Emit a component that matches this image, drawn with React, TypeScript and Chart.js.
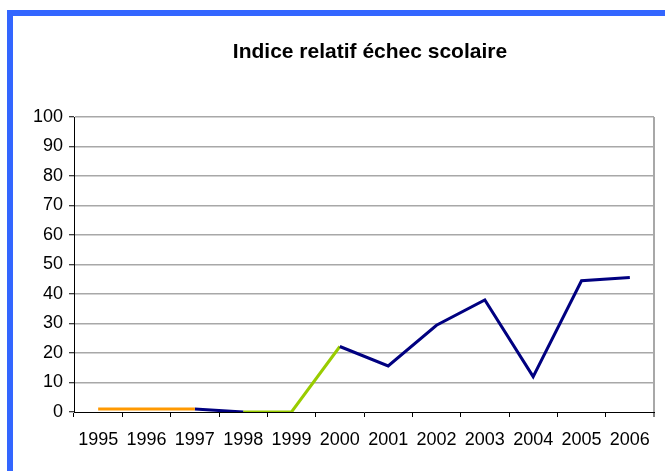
import React, { useEffect, useRef } from "react";
import { Chart, registerables } from "chart.js";

Chart.register(...registerables);

const TITLE = "Indice relatif échec scolaire";
const YEARS = ["1995", "1996", "1997", "1998", "1999", "2000", "2001", "2002", "2003", "2004", "2005", "2006"];
const ORANGE_SERIES = [1, 1, 1, null, null, null, null, null, null, null, null, null];
const GREEN_SERIES = [null, null, null, 0, 0, 22.2, null, null, null, null, null, null];
const NAVY_SERIES = [null, null, 1, 0, null, 22.2, 15.6, 29.4, 38, 12, 44.5, 45.6];
const Y_MIN = 0;
const Y_MAX = 100;
const Y_STEP = 10;

const FONT = '"Liberation Sans", Arial, sans-serif';
const GRID_GRAY = "#a8a8a8";

const titlePlugin = {
  id: "customTitle",
  afterDraw(chart: any) {
    const { ctx, chartArea } = chart;
    ctx.save();
    ctx.font = `bold 21px ${FONT}`;
    ctx.fillStyle = "#000";
    ctx.textAlign = "center";
    ctx.textBaseline = "alphabetic";
    ctx.fillText(TITLE, (chartArea.left + chartArea.right) / 2 + 6, 58);
    ctx.restore();
  },
};

export default function App() {
  const canvasRef = useRef<HTMLCanvasElement | null>(null);

  useEffect(() => {
    if (!canvasRef.current) return;
    const chart = new Chart(canvasRef.current, {
      type: "line",
      data: {
        labels: YEARS,
        datasets: [
          {
            label: "a",
            data: ORANGE_SERIES,
            borderColor: "#ff9900",
            borderWidth: 3,
            pointRadius: 0,
            spanGaps: false,
          },
          {
            label: "b",
            data: NAVY_SERIES,
            borderColor: "#000080",
            borderWidth: 3,
            pointRadius: 0,
            spanGaps: false,
          },
          {
            label: "c",
            data: GREEN_SERIES,
            borderColor: "#99cc00",
            borderWidth: 3,
            pointRadius: 0,
            spanGaps: false,
          },
        ],
      },
      options: {
        responsive: false,
        animation: false,
        layout: { padding: { left: 0, right: 11, top: 117, bottom: 0 } },
        plugins: {
          legend: { display: false },
          title: { display: false },
          tooltip: { enabled: false },
        },
        scales: {
          x: {
            type: "category",
            offset: true,
            grid: {
              offset: true,
              drawOnChartArea: true,
              color: (c: any) => (c.type === "tick" ? "rgba(0,0,0,0)" : GRID_GRAY),
              lineWidth: (c: any) => (c.type === "tick" ? 1 : 2),
              tickColor: "#000",
              tickLength: 5,
              tickWidth: 1,
            },
            border: { color: "#000", width: 1 },
            ticks: {
              color: "#000",
              font: { family: FONT, size: 18 },
              padding: 12,
              maxRotation: 0,
              autoSkip: false,
            },
            afterFit: (s: any) => {
              s.height = 59;
            },
          },
          y: {
            min: Y_MIN,
            max: Y_MAX,
            grid: {
              color: (c: any) => (c.tick && c.tick.value === 0 ? "rgba(0,0,0,0)" : GRID_GRAY),
              lineWidth: 1.5,
              tickColor: "#000",
              tickLength: 5,
              tickWidth: 1,
            },
            border: { color: "#000", width: 1 },
            ticks: {
              stepSize: Y_STEP,
              color: "#000",
              font: { family: FONT, size: 18 },
              padding: 6,
            },
            afterFit: (s: any) => {
              s.width = 74;
            },
          },
        },
      },
      plugins: [titlePlugin],
    });
    return () => chart.destroy();
  }, []);

  return (
    <div
      style={{
        position: "fixed",
        left: 0,
        top: 0,
        width: 665,
        height: 471,
        background: "#fff",
        overflow: "hidden",
      }}
    >
      <div
        style={{
          position: "absolute",
          left: 7,
          top: 10,
          right: 0,
          bottom: 0,
          borderTop: "6px solid #3366ff",
          borderLeft: "6px solid #3366ff",
        }}
      />
      <canvas
        ref={canvasRef}
        width={665}
        height={471}
        style={{ position: "absolute", left: 0, top: 0, width: 665, height: 471 }}
      />
    </div>
  );
}
